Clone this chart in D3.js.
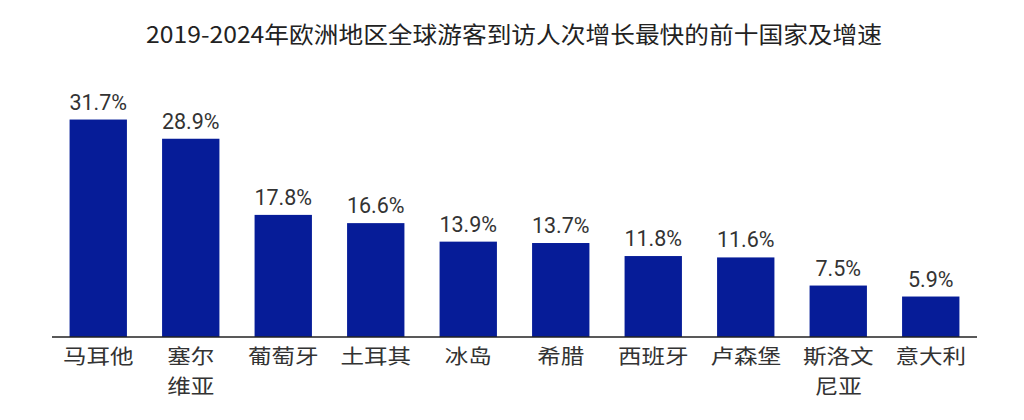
<!DOCTYPE html>
<html>
<head>
<meta charset="utf-8">
<script src="https://cdn.jsdelivr.net/npm/d3@7"></script>
<style>
  html, body { margin: 0; padding: 0; background: #fff; }
  svg { display: block; }
</style>
</head>
<body>
<div id="chart"></div>
<script>
// --- Data ---
const title = "2019-2024年欧洲地区全球游客到访人次增长最快的前十国家及增速";
const countries = ["马耳他", "塞尔\n维亚", "葡萄牙", "土耳其", "冰岛", "希腊", "西班牙", "卢森堡", "斯洛文\n尼亚", "意大利"];
const growth = [31.7, 28.9, 17.8, 16.6, 13.9, 13.7, 11.8, 11.6, 7.5, 5.9];

const width = 1024, height = 420;
const baseY = 337;

const svg = d3.select("#chart")
  .append("svg")
  .attr("width", width)
  .attr("height", height);

// Title
svg.append("g")
  .attr("transform", "translate(514,43) scale(1.075,1)")
  .append("text")
  .attr("text-anchor", "middle")
  .style("font-family", "'Noto Sans CJK SC', sans-serif")
  .style("font-size", "23px")
  .attr("fill", "#222")
  .text(title);

const x = d3.scaleBand()
  .domain(countries)
  .range([52, 977])
  .paddingInner(0.38)
  .paddingOuter(0.19);

const y = d3.scaleLinear()
  .domain([0, 35])
  .range([baseY, baseY - 35 * 6.86]);

const rows = countries.map((c, i) => ({ name: c, value: growth[i] }));

// Bars
svg.selectAll(".bar")
  .data(rows)
  .enter()
  .append("rect")
  .attr("class", "bar")
  .attr("x", d => x(d.name))
  .attr("y", d => y(d.value))
  .attr("width", x.bandwidth())
  .attr("height", d => baseY - y(d.value))
  .attr("fill", "#061c98");

// Value labels
svg.selectAll(".label")
  .data(rows)
  .enter()
  .append("text")
  .attr("class", "label")
  .attr("x", d => x(d.name) + x.bandwidth() / 2)
  .attr("y", d => y(d.value) - 10)
  .attr("text-anchor", "middle")
  .style("font-family", "Roboto, 'Liberation Sans', sans-serif")
  .style("font-size", "21.5px")
  .attr("fill", "#333")
  .text(d => d.value.toFixed(1) + "%");

// X axis
const axis = svg.append("g")
  .attr("transform", `translate(0,${baseY})`)
  .call(d3.axisBottom(x).tickSize(0).tickFormat(""));
axis.select(".domain")
  .attr("d", "M52,0H977")
  .attr("stroke", "#222")
  .attr("stroke-width", 1.6);

// Category labels (may span two lines), one text per line
const cats = svg.selectAll(".cat")
  .data(rows)
  .enter()
  .append("g")
  .attr("class", "cat")
  .attr("transform", d => `translate(${x(d.name) + x.bandwidth() / 2},${baseY + 27})`);

cats.selectAll("g")
  .data(d => d.name.split("\n"))
  .enter()
  .append("g")
  .attr("transform", (d, i) => `translate(0,${i * 30}) scale(1.15,1)`)
  .append("text")
  .attr("text-anchor", "middle")
  .style("font-family", "'Noto Sans CJK SC', sans-serif")
  .style("font-size", "20.5px")
  .attr("fill", "#333")
  .text(d => d);
</script>
</body>
</html>
